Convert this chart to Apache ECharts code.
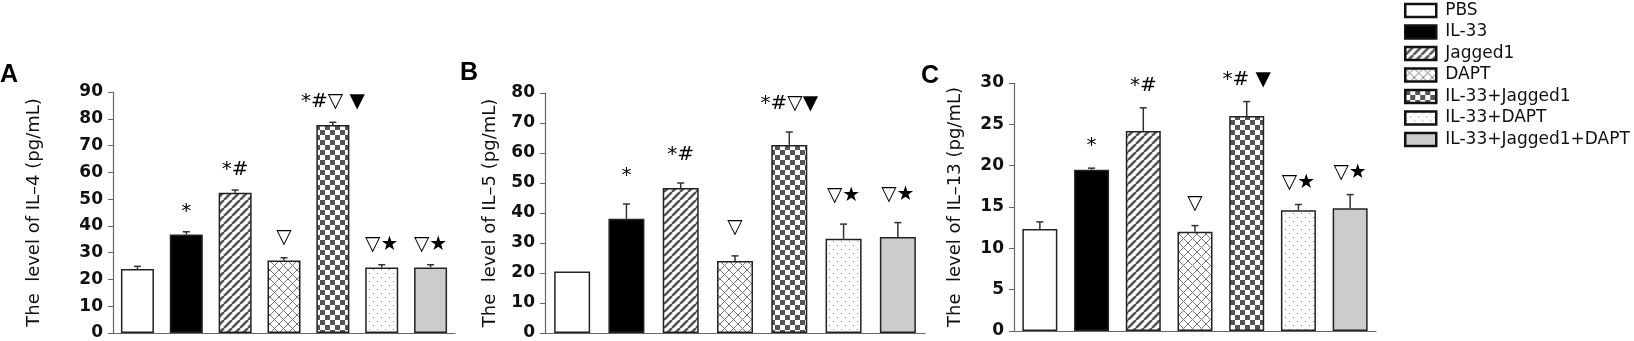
<!DOCTYPE html>
<html>
<head>
<meta charset="utf-8">
<script src="https://cdn.jsdelivr.net/npm/echarts@6/dist/echarts.min.js"></script>
<style>
html,body{margin:0;padding:0;background:#fff;}
#chart{width:1634px;height:341px;}
</style>
</head>
<body>
<div id="chart"></div>
<script>
// ---- data ----
const categories = ['PBS', 'IL-33', 'Jagged1', 'DAPT', 'IL-33+Jagged1', 'IL-33+DAPT', 'IL-33+Jagged1+DAPT'];
const il4Mean = [23.9, 36.8, 52.4, 27.1, 77.7, 24.5, 24.5];
const il4Err  = [1.0, 1.0, 1.0, 1.0, 1.0, 1.0, 1.0];
const il5Mean = [20.5, 38.1, 48.3, 24.0, 62.7, 31.4, 32.0];
const il5Err  = [0, 4.9, 1.7, 1.7, 4.3, 4.9, 4.8];
const il13Mean = [12.35, 19.5, 24.2, 12.0, 26.0, 14.6, 14.85];
const il13Err  = [0.85, 0.2, 2.8, 0.75, 1.75, 0.7, 1.65];
const il4Marks  = ['', '*', '*#', '▽', '*#▽ ▼', '▽★', '▽★'];
const il5Marks  = ['', '*', '*#', '▽', '*#▽▼', '▽★', '▽★'];
const il13Marks = ['', '*', '*#', '▽', '*# ▼', '▽★', '▽★'];
const panelLetters = ['A', 'B', 'C'];
const yNames = ['The  level of IL–4 (pg/mL)', 'The  level of IL–5 (pg/mL)', 'The  level of IL–13 (pg/mL)'];
const yMax = [90, 80, 30];
const yInterval = [10, 10, 5];

// ---- patterns ----
function makeCanvas(w, h, draw) {
  const c = document.createElement('canvas');
  c.width = w; c.height = h;
  const ctx = c.getContext('2d');
  ctx.fillStyle = '#fff'; ctx.fillRect(0, 0, w, h);
  draw(ctx, w, h);
  return c;
}
const stripes = makeCanvas(8, 8, (ctx) => {
  ctx.strokeStyle = '#555'; ctx.lineWidth = 2.6;
  for (const o of [-8, 0, 8]) { ctx.beginPath(); ctx.moveTo(o, 8); ctx.lineTo(o + 8, 0); ctx.stroke(); }
});
const diamonds = makeCanvas(9, 9, (ctx) => {
  ctx.strokeStyle = '#777'; ctx.lineWidth = 1;
  for (const o of [-9, 0, 9]) {
    ctx.beginPath(); ctx.moveTo(o, 9); ctx.lineTo(o + 9, 0); ctx.stroke();
    ctx.beginPath(); ctx.moveTo(o, 0); ctx.lineTo(o + 9, 9); ctx.stroke();
  }
});
const checker = makeCanvas(10, 10, (ctx) => {
  ctx.fillStyle = '#555';
  ctx.fillRect(0, 0, 5, 5); ctx.fillRect(5, 5, 5, 5);
});
const dots = makeCanvas(8, 8, (ctx) => {
  ctx.fillStyle = '#888';
  ctx.fillRect(1, 1, 1, 1); ctx.fillRect(5, 5, 1, 1);
});
const fills = [
  '#ffffff',
  '#000000',
  { image: stripes, repeat: 'repeat' },
  { image: diamonds, repeat: 'repeat' },
  { image: checker, repeat: 'repeat' },
  { image: dots, repeat: 'repeat' },
  '#cccccc'
];

// ---- layout ----
const grids = [
  { left: 113, top: 92, width: 342, height: 241 },
  { left: 545, top: 93, width: 380, height: 240 },
  { left: 1014, top: 83, width: 362, height: 248 }
];
const barWidths = [33, 36, 35];
const nameGaps = [70, 46, 50];
const markGaps = [20, 28, 22];
const means = [il4Mean, il5Mean, il13Mean];
const errs = [il4Err, il5Err, il13Err];
const marks = [il4Marks, il5Marks, il13Marks];
const letterPos = [[0, 63], [460, 61], [921, 64]];

const FONT = '"Liberation Sans", Arial, sans-serif';
const WIDE = '"DejaVu Sans", sans-serif';

const option = {
  animation: false,
  backgroundColor: '#fff',
  grid: grids.map(g => Object.assign({ containLabel: false, outerBoundsMode: 'none' }, g)),
  xAxis: grids.map((g, p) => ({
    type: 'category', gridIndex: p, data: categories,
    axisLine: { show: true, lineStyle: { color: '#666', width: 1.2 } },
    axisTick: { show: false }, axisLabel: { show: false }, splitLine: { show: false }
  })),
  yAxis: grids.map((g, p) => ({
    type: 'value', gridIndex: p, min: 0, max: yMax[p], interval: yInterval[p],
    name: yNames[p], nameLocation: 'middle', nameGap: nameGaps[p], nameRotate: 90,
    nameTextStyle: { fontFamily: WIDE, fontSize: 18, color: '#111' },
    axisLine: { show: true, lineStyle: { color: '#666', width: 1.2 } },
    axisTick: { show: true, inside: false, length: 5, lineStyle: { color: '#666' } },
    axisLabel: { fontFamily: WIDE, fontSize: 17, fontWeight: 'bold', color: '#111', margin: 10 },
    splitLine: { show: false }
  })),
  legend: {
    orient: 'vertical', left: 1404, top: 2, padding: 0,
    itemWidth: 31, itemHeight: 13, itemGap: 4.5,
    selectedMode: false,
    icon: 'rect',
    data: categories,
    itemStyle: { borderColor: '#111', borderWidth: 2.5 },
    textStyle: { fontFamily: WIDE, fontSize: 17, color: '#111', padding: [0, 0, 0, 4] }
  },
  graphic: panelLetters.map((t, p) => ({
    type: 'text', left: letterPos[p][0], top: letterPos[p][1],
    style: { text: t, font: 'bold 25px ' + FONT, fill: '#000' }
  })),
  series: []
};

for (let p = 0; p < 3; p++) {
  categories.forEach((name, i) => {
    option.series.push({
      type: 'bar', name: name, xAxisIndex: p, yAxisIndex: p,
      barWidth: barWidths[p], barGap: '-100%',
      itemStyle: { color: fills[i], borderColor: '#222', borderWidth: 1.5 },
      data: means[p].map((v, j) => (j === i ? v : '-'))
    });
  });
  const mk = marks[p];
  const gap = markGaps[p];
  option.series.push({
    type: 'custom', xAxisIndex: p, yAxisIndex: p, z: 10,
    data: means[p].map((v, j) => [j, v, errs[p][j]]),
    renderItem: function (params, api) {
      const x = api.value(0), m = api.value(1), e = api.value(2);
      const base = api.coord([x, m]);
      const top = api.coord([x, m + e]);
      const children = [];
      if (e > 0) {
        children.push({ type: 'line', shape: { x1: base[0], y1: base[1], x2: top[0], y2: top[1] }, style: { stroke: '#333', lineWidth: 1.5 } });
        children.push({ type: 'line', shape: { x1: top[0] - 3.5, y1: top[1], x2: top[0] + 3.5, y2: top[1] }, style: { stroke: '#333', lineWidth: 1.5 } });
      }
      const txt = mk[params.dataIndex];
      if (txt) {
        children.push({
          type: 'text', x: top[0], y: top[1] - gap,
          style: { text: txt, font: '20px "DejaVu Sans", sans-serif', fill: '#000', align: 'center', verticalAlign: 'middle' }
        });
      }
      return { type: 'group', children: children };
    }
  });
}

const chart = echarts.init(document.getElementById('chart'), null, { renderer: 'canvas' });
chart.setOption(option);
</script>
</body>
</html>
